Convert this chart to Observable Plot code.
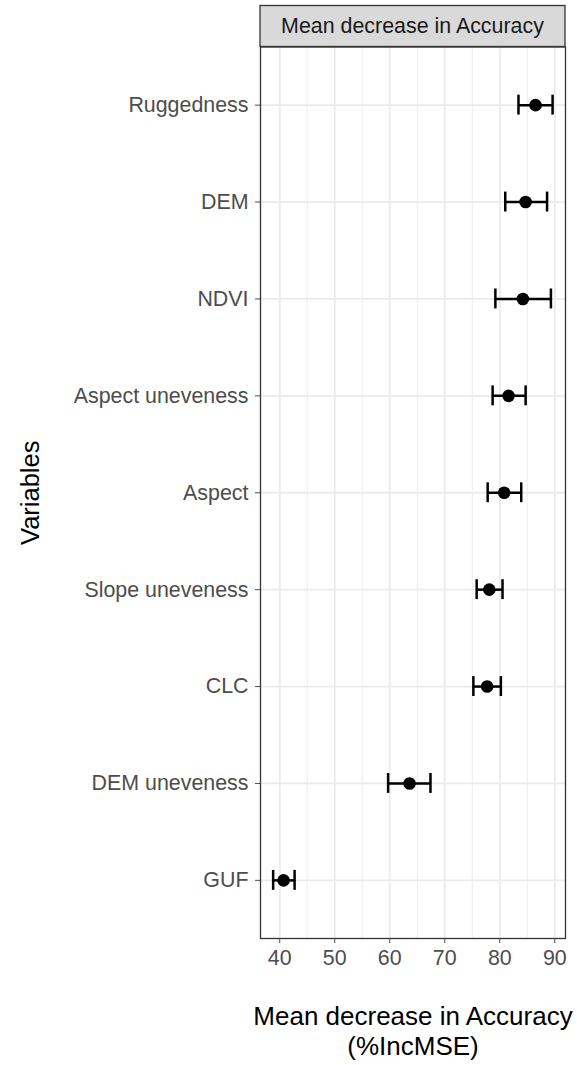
<!DOCTYPE html>
<html><head><meta charset="utf-8">
<script src="https://cdn.jsdelivr.net/npm/d3@7"></script>
<script src="https://cdn.jsdelivr.net/npm/@observablehq/plot@0.6"></script>
<style>html,body{margin:0;padding:0;background:#fff}</style>
</head><body><div id="chart"></div>
<script>
const variables = ["Ruggedness","DEM","NDVI","Aspect uneveness","Aspect","Slope uneveness","CLC","DEM uneveness","GUF"];
const means = [86.5,84.7,84.2,81.6,80.8,78.1,77.7,63.6,40.7];
const lows  = [83.4,81.0,79.2,78.7,77.8,75.8,75.2,59.7,38.8];
const highs = [89.6,88.6,89.3,84.7,83.9,80.5,80.2,67.4,42.7];
const xMajor = [40,50,60,70,80,90];
const xMinor = [45,55,65,75,85];
const xDomain = [36.5, 91.95];
const stripLabel = "Mean decrease in Accuracy";
const xTitle = "Mean decrease in Accuracy\n(%IncMSE)";
const yTitle = "Variables";

const data = variables.map((v,i)=>({variable:v, mean:means[i], low:lows[i], high:highs[i]}));

const W = 577, H = 1065;
const M = {left:260, right:12, top:46.5, bottom:127};
const font = "'Liberation Sans', Arial, Helvetica, sans-serif";

const plot = Plot.plot({
  width: W, height: H,
  marginLeft: M.left, marginRight: M.right, marginTop: M.top, marginBottom: M.bottom,
  style: {fontFamily: font, background:"#fff"},
  x: {domain: xDomain},
  y: {type:"band", domain: variables, paddingInner:0, paddingOuter:0.1, round:false},
  marks: [
    Plot.ruleX(xMinor, {stroke:"#ebebeb", strokeWidth:0.9}),
    Plot.ruleX(xMajor, {stroke:"#ebebeb", strokeWidth:1.8}),
    Plot.gridY({stroke:"#ebebeb", strokeOpacity:1, strokeWidth:1.8}),
    Plot.ruleY(data, {y:"variable", x1:"low", x2:"high", stroke:"#000", strokeWidth:2.5}),
    Plot.tickX(data, {x:"low", y:"variable", insetTop:38.5, insetBottom:38.5, stroke:"#000", strokeWidth:2.5}),
    Plot.tickX(data, {x:"high", y:"variable", insetTop:38.5, insetBottom:38.5, stroke:"#000", strokeWidth:2.5}),
    Plot.dot(data, {x:"mean", y:"variable", r:6.3, fill:"#000", stroke:null}),
    Plot.frame({stroke:"#333", strokeWidth:1.3}),
    Plot.axisY({tickSize:5, tickPadding:7, fontSize:21.4, label:null, color:"#4d4d4d"}),
    Plot.axisX({ticks:xMajor, tickSize:5, tickPadding:6, fontSize:21.4, label:null, color:"#4d4d4d"}),
    Plot.text([yTitle], {frameAnchor:"left", dx:-230, rotate:-90, textAnchor:"middle", fontSize:25.5, fill:"#000"}),
    Plot.text([xTitle], {frameAnchor:"bottom", dy:66, lineAnchor:"top", fontSize:26, lineHeight:1.13, fill:"#000"})
  ]
});

const svg = d3.select(plot);
svg.append("rect")
  .attr("x", M.left).attr("y", 5.5)
  .attr("width", W - M.left - M.right).attr("height", M.top - 5.5)
  .attr("fill", "#d9d9d9").attr("stroke", "#333").attr("stroke-width", 1.3);
svg.append("text")
  .attr("x", M.left + (W - M.left - M.right)/2).attr("y", (M.top + 5.5)/2)
  .attr("text-anchor", "middle").attr("dy", "0.35em")
  .attr("font-size", 21.4).attr("fill", "#1a1a1a").attr("font-family", font)
  .text(stripLabel);

document.getElementById("chart").appendChild(plot);
</script>
</body></html>
